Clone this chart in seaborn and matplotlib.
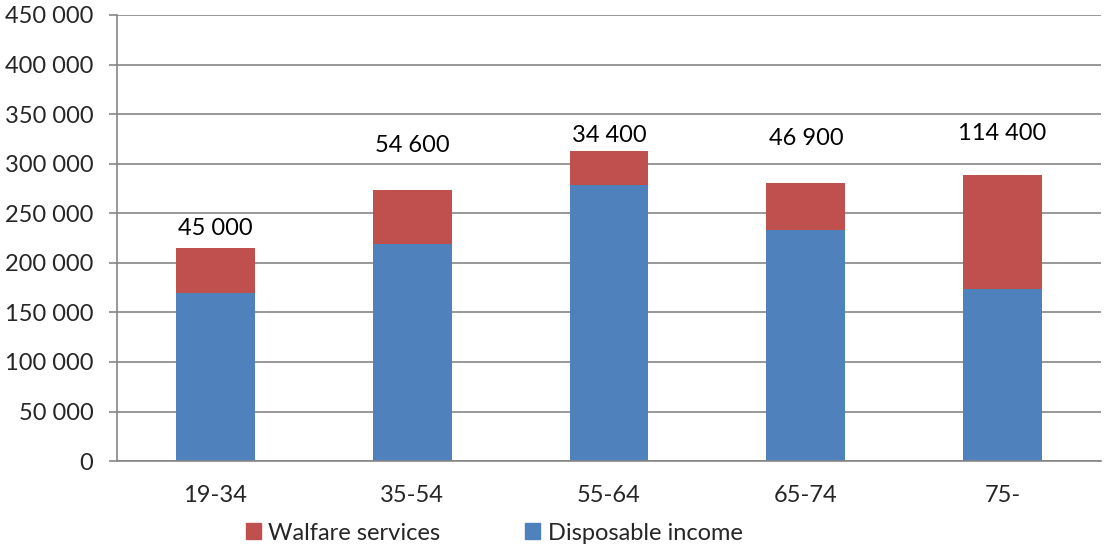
# -*- coding:UTF-8 -*-

import numpy as np
import pandas as pd
import seaborn as sns
import matplotlib
matplotlib.use("Agg")
from matplotlib import pyplot as plt
from matplotlib.patches import Patch
from matplotlib.ticker import FuncFormatter, MultipleLocator

# 数据
ages = ["19-34", "35-54", "55-64", "65-74", "75-"]
disposable = [170000, 218500, 278500, 233400, 173700]
welfare = [45000, 54600, 34400, 46900, 114400]
labels = ["45 000", "54 600", "34 400", "46 900", "114 400"]

# 标签在柱顶上方的偏移（点）
label_offsets = [14, 32, 11, 32, 30]

blue = "#4F81BD"
red = "#C0504D"
grid = "#868686"

df = pd.DataFrame({"age": ages, "disposable": disposable, "welfare": welfare})
df["total"] = df["disposable"] + df["welfare"]

sns.set_style("white")
plt.rcParams["font.family"] = ["Lato", "DejaVu Sans"]
fs = 17

fig = plt.figure(figsize=(11.06, 5.45), dpi=100)
ax = fig.add_axes([0.1058, 0.154, 0.8897, 0.8185])

sns.barplot(data=df, x="age", y="total", color=red, saturation=1, width=0.4,
            linewidth=0, ax=ax)
sns.barplot(data=df, x="age", y="disposable", color=blue, saturation=1, width=0.4,
            linewidth=0, ax=ax)

for i, (t, lab, off) in enumerate(zip(df["total"], labels, label_offsets)):
    ax.annotate(lab, (i, t), xytext=(0, off), textcoords="offset points",
                ha="center", va="center", fontsize=fs, color="black")

ax.set_xlim(-0.5, 4.5)
ax.set_ylim(0, 450000)
ax.yaxis.set_major_locator(MultipleLocator(50000))
ax.yaxis.set_major_formatter(FuncFormatter(lambda v, p: f"{int(v):,}".replace(",", " ")))
ax.set_axisbelow(True)
ax.grid(axis="y", color=grid, linewidth=1.2)
ax.set_xlabel("")
ax.set_ylabel("")

ax.set_xticks(np.arange(-0.5, 5, 1), minor=True)
ax.tick_params(axis="x", which="major", length=0, pad=17, labelsize=fs)
ax.tick_params(axis="x", which="minor", length=6, color=grid, width=1.2, direction="out")
ax.tick_params(axis="y", length=6, color=grid, width=1.2, direction="out", pad=11,
               labelsize=fs, left=True)

for s in ["top", "right"]:
    ax.spines[s].set_visible(False)
for s in ["left", "bottom"]:
    ax.spines[s].set_color(grid)
    ax.spines[s].set_linewidth(1.2)

handles = [Patch(color=red, label="Walfare services"), Patch(color=blue, label="Disposable income")]
fig.legend(handles=handles, loc="center left", bbox_to_anchor=(0.222, 0.022), ncol=2,
           frameon=False, fontsize=fs, handlelength=0.65, handleheight=0.65,
           handletextpad=0.3, columnspacing=3.6, borderpad=0, borderaxespad=0)

fig.savefig("out.png", dpi=100)
